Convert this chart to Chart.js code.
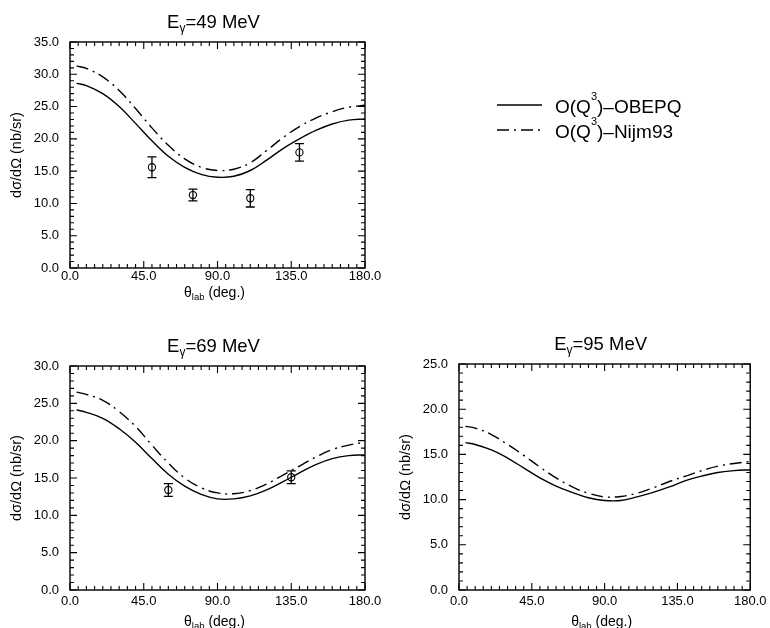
<!DOCTYPE html>
<html>
<head>
<meta charset="utf-8">
<script src="https://cdn.jsdelivr.net/npm/chart.js@4.4.0/dist/chart.umd.min.js"></script>
<style>
  html, body { margin: 0; padding: 0; background: #fff; }
  body { width: 770px; height: 628px; overflow: hidden; position: relative; }
  canvas { position: absolute; }
</style>
</head>
<body>
<canvas id="c49" width="770" height="300" style="left:0;top:0"></canvas>
<canvas id="c69" width="385" height="328" style="left:0;top:300px"></canvas>
<canvas id="c95" width="385" height="328" style="left:385px;top:300px"></canvas>
<script>
// ---------- data ----------
const angles = [4, 10, 20, 30, 40, 50, 60, 70, 80, 90, 100, 110, 120, 130, 140, 150, 160, 170, 180];

const obepq49 = [28.6, 28.25, 27.0, 25.0, 22.4, 19.7, 17.3, 15.6, 14.5, 14.05, 14.2, 15.1, 16.7, 18.5, 20.0, 21.3, 22.3, 22.9, 23.1];
const nijm49  = [31.3, 30.9, 29.6, 27.5, 24.7, 21.7, 19.0, 16.9, 15.6, 15.1, 15.3, 16.3, 18.2, 20.2, 21.9, 23.2, 24.2, 24.9, 25.2];

const obepq69 = [24.1, 23.8, 23.0, 21.6, 19.8, 17.6, 15.5, 13.9, 12.8, 12.2, 12.2, 12.6, 13.4, 14.5, 15.7, 16.8, 17.6, 18.0, 18.1];
const nijm69  = [26.5, 26.2, 25.4, 23.9, 21.9, 19.4, 17.0, 15.0, 13.7, 13.0, 12.9, 13.3, 14.2, 15.4, 16.6, 17.8, 18.8, 19.4, 19.8];

const obepq95 = [16.3, 16.1, 15.5, 14.6, 13.5, 12.4, 11.5, 10.8, 10.2, 9.9, 9.9, 10.3, 10.8, 11.4, 12.1, 12.6, 13.0, 13.2, 13.3];
const nijm95  = [18.1, 17.9, 17.2, 16.1, 14.9, 13.6, 12.4, 11.4, 10.7, 10.3, 10.35, 10.7, 11.3, 12.0, 12.6, 13.2, 13.7, 14.0, 14.2];

const expAngles49 = [50, 75, 110, 140];
const expValues49 = [15.6, 11.3, 10.8, 17.9];
const expErrors49 = [1.6, 0.9, 1.35, 1.35];

const expAngles69 = [60, 135];
const expValues69 = [13.4, 15.1];
const expErrors69 = [0.85, 0.85];

const seriesNames = ['O(Q\u00B3)\u2013OBEPQ', 'O(Q\u00B3)\u2013Nijm93'];
const legendParts = [['O(Q', '3', ')\u2013OBEPQ'], ['O(Q', '3', ')\u2013Nijm93']];
const energies = ['49', '69', '95'];
const yMaxima = [35, 30, 25];
const yAxisTitle = 'd\u03C3/d\u03A9 (nb/sr)';

// ---------- drawing helpers ----------
const FONT = "'Liberation Sans', Arial, Helvetica, sans-serif";
const DASHDOT = [12, 5, 2, 5];

function pts(xs, ys) { return xs.map((x, i) => ({ x: x, y: ys[i] })); }

function drawParts(ctx, parts, x, y, centered) {
  let w = 0;
  parts.forEach(p => { ctx.font = p.size + 'px ' + FONT; p.w = ctx.measureText(p.t).width; w += p.w; });
  let cx = centered ? x - w / 2 : x;
  ctx.textAlign = 'left';
  ctx.textBaseline = 'alphabetic';
  parts.forEach(p => { ctx.font = p.size + 'px ' + FONT; ctx.fillText(p.t, cx, y + (p.dy || 0)); cx += p.w; });
}

const decoPlugin = {
  id: 'deco',
  afterDatasetsDraw(chart) {
    const ctx = chart.ctx, xs = chart.scales.x, ys = chart.scales.y;
    chart.data.datasets.forEach(ds => {
      if (!ds.errorBars) return;
      ctx.save();
      ctx.strokeStyle = '#000';
      ctx.lineWidth = 1.3;
      ds.data.forEach((p, i) => {
        const e = ds.errorBars[i];
        const px = xs.getPixelForValue(p.x);
        const y1 = ys.getPixelForValue(p.y - e), y2 = ys.getPixelForValue(p.y + e);
        ctx.beginPath();
        ctx.moveTo(px, y1); ctx.lineTo(px, y2);
        ctx.moveTo(px - 4.5, y1); ctx.lineTo(px + 4.5, y1);
        ctx.moveTo(px - 4.5, y2); ctx.lineTo(px + 4.5, y2);
        ctx.stroke();
      });
      ctx.restore();
    });
  },
  afterDraw(chart, args, o) {
    const ctx = chart.ctx, a = chart.chartArea, xs = chart.scales.x, ys = chart.scales.y;
    ctx.save();
    ctx.strokeStyle = '#000';
    ctx.fillStyle = '#000';
    ctx.lineWidth = 1.4;
    ctx.strokeRect(a.left, a.top, a.right - a.left, a.bottom - a.top);
    ctx.lineWidth = 1.1;
    ctx.beginPath();
    for (let v = xs.min; v <= xs.max + 1e-9; v += 5) {
      const px = xs.getPixelForValue(v);
      const L = (Math.abs(v % 45) < 1e-6) ? 7 : 4;
      ctx.moveTo(px, a.bottom); ctx.lineTo(px, a.bottom - L);
      ctx.moveTo(px, a.top); ctx.lineTo(px, a.top + L);
    }
    for (let v = ys.min; v <= ys.max + 1e-9; v += 1) {
      const py = ys.getPixelForValue(v);
      const L = (Math.abs(v % 5) < 1e-6) ? 7 : 4;
      ctx.moveTo(a.left, py); ctx.lineTo(a.left + L, py);
      ctx.moveTo(a.right, py); ctx.lineTo(a.right - L, py);
    }
    ctx.stroke();

    const cx = (a.left + a.right) / 2;
    // panel title: E_gamma = xx MeV
    drawParts(ctx, [
      { t: 'E', size: 18.5 },
      { t: '\u03B3', size: 12, dy: 4 },
      { t: '=' + o.energy + ' MeV', size: 18.5 }
    ], cx - 4, a.top - 14, true);

    // x axis title
    drawParts(ctx, [
      { t: '\u03B8', size: 14 },
      { t: 'lab', size: 9.5, dy: 3 },
      { t: ' (deg.)', size: 14 }
    ], cx - 3, a.bottom + o.xTitleGap, true);

    // y axis title (rotated)
    ctx.save();
    ctx.translate(a.left - 53, (a.top + a.bottom) / 2);
    ctx.rotate(-Math.PI / 2);
    ctx.font = '14.5px ' + FONT;
    ctx.textAlign = 'center';
    ctx.textBaseline = 'middle';
    ctx.fillText(yAxisTitle, 0, 0);
    ctx.restore();

    // legend (only on the first panel)
    if (o.legend) {
      const rows = [105, 130];
      chart.data.datasets.slice(0, 2).forEach((ds, i) => {
        ctx.save();
        ctx.lineWidth = 1.4;
        ctx.setLineDash(ds.borderDash || []);
        ctx.beginPath();
        ctx.moveTo(497, rows[i]); ctx.lineTo(542, rows[i]);
        ctx.stroke();
        ctx.restore();
        const lp = legendParts[i];
        drawParts(ctx, [
          { t: lp[0], size: 19 },
          { t: lp[1], size: 11, dy: -12.5 },
          { t: lp[2], size: 19 }
        ], 555, rows[i] + 7.5, false);
      });
    }
    ctx.restore();
  }
};

function makePanel(id, idx, curveA, curveB, expA, expV, expE, geo) {
  const datasets = [
    { label: seriesNames[0], data: pts(angles, curveA), showLine: true, borderColor: '#000', borderWidth: 1.4, pointRadius: 0, tension: 0.4, cubicInterpolationMode: 'default', fill: false },
    { label: seriesNames[1], data: pts(angles, curveB), showLine: true, borderColor: '#000', borderWidth: 1.4, borderDash: DASHDOT, pointRadius: 0, tension: 0.4, cubicInterpolationMode: 'default', fill: false }
  ];
  if (expA) {
    datasets.push({ label: 'data', data: pts(expA, expV), errorBars: expE, showLine: false, pointStyle: 'circle', pointRadius: 3.6, borderWidth: 1.1, borderColor: '#000', backgroundColor: 'rgba(0,0,0,0)' });
  }
  const tickFont = { family: FONT, size: 13 };
  return new Chart(document.getElementById(id), {
    type: 'line',
    data: { datasets: datasets },
    options: {
      responsive: false,
      animation: false,
      events: [],
      layout: { padding: { left: 0, top: geo.top, right: geo.right, bottom: 0 } },
      plugins: {
        legend: { display: false },
        tooltip: { enabled: false },
        deco: { energy: energies[idx], legend: geo.legend, xTitleGap: geo.xTitleGap }
      },
      scales: {
        x: {
          type: 'linear', min: 0, max: 180,
          afterFit(s) { s.height = geo.xh; },
          ticks: { stepSize: 45, padding: geo.xpad, color: '#000', font: tickFont, maxRotation: 0, autoSkip: false, callback: v => v.toFixed(1) },
          grid: { display: false, drawTicks: false },
          border: { display: false }
        },
        y: {
          type: 'linear', min: 0, max: yMaxima[idx],
          afterFit(s) { s.width = geo.yw; },
          ticks: { stepSize: 5, padding: 11, color: '#000', font: tickFont, autoSkip: false, callback: v => v.toFixed(1) },
          grid: { display: false, drawTicks: false },
          border: { display: false }
        }
      }
    },
    plugins: [decoPlugin]
  });
}

makePanel('c49', 0, obepq49, nijm49, expAngles49, expValues49, expErrors49,
  { top: 42, right: 405, xh: 32, yw: 70, xpad: 1, xTitleGap: 29, legend: true });
makePanel('c69', 1, obepq69, nijm69, expAngles69, expValues69, expErrors69,
  { top: 66, right: 20, xh: 38, yw: 70, xpad: 3.5, xTitleGap: 36, legend: false });
makePanel('c95', 2, obepq95, nijm95, null, null, null,
  { top: 64, right: 16, xh: 38, yw: 74, xpad: 3.5, xTitleGap: 36, legend: false });
</script>
</body>
</html>
